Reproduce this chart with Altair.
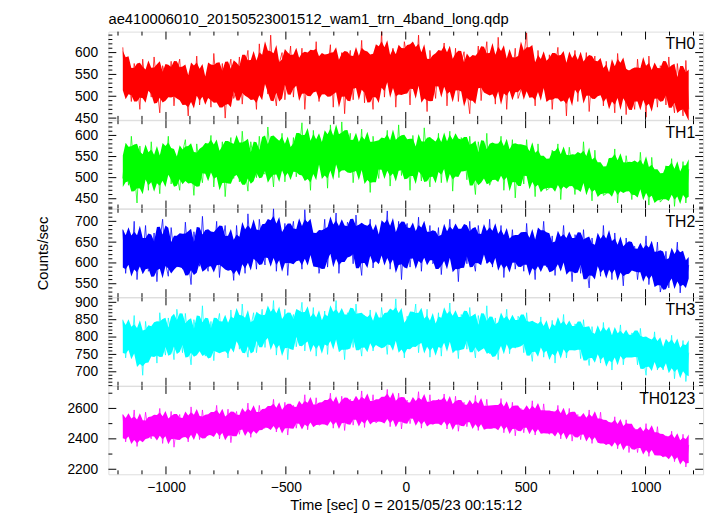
import altair as alt
import numpy as np
import pandas as pd

TITLE = "ae410006010_20150523001512_wam1_trn_4band_long.qdp"
XTITLE = "Time [sec] 0 = 2015/05/23 00:15:12"
YTITLE = "Counts/sec"

# time grid of the light-curve samples (sec from 2015/05/23 00:15:12)
T_FIRST, T_LAST, N_SAMPLES = -1180, 1180, 200

# count rates (approximate)
th0 = [612, 505, 560, 488, 575, 540, 470, 585, 515, 548,
       498, 590, 525, 462, 570, 545, 502, 580, 478, 555,
       585, 490, 535, 455, 568, 510, 592, 480, 545, 505,
       560, 475, 598, 520, 488, 575, 450, 550, 585, 495,
       515, 590, 482, 565, 605, 498, 548, 470, 620, 530,
       590, 505, 640, 520, 478, 575, 600, 492, 555, 615,
       498, 585, 530, 610, 470, 565, 595, 512, 625, 488,
       580, 505, 560, 618, 475, 590, 520, 600, 460, 572,
       605, 492, 575, 530, 628, 485, 598, 540, 470, 612,
       520, 648, 498, 585, 560, 610, 475, 590, 505, 625,
       588, 480, 612, 535, 640, 500, 575, 465, 605, 545,
       495, 598, 560, 622, 478, 585, 520, 610, 488, 575,
       602, 512, 460, 588, 535, 615, 490, 570, 625, 505,
       570, 482, 635, 525, 598, 470, 580, 545, 610, 495,
       515, 590, 645, 498, 562, 478, 605, 530, 585, 490,
       595, 470, 560, 612, 500, 578, 455, 590, 525, 605,
       488, 575, 530, 600, 465, 555, 592, 505, 570, 478,
       580, 495, 548, 462, 598, 520, 575, 458, 560, 505,
       470, 585, 515, 560, 452, 592, 498, 545, 475, 570,
       560, 480, 590, 505, 462, 575, 518, 455, 582, 470]
th1 = [498, 565, 482, 598, 520, 440, 575, 505, 550, 470,
       585, 495, 540, 462, 572, 515, 598, 485, 555, 508,
       470, 560, 590, 500, 545, 458, 580, 525, 488, 570,
       545, 600, 478, 562, 505, 585, 455, 548, 595, 498,
       575, 490, 610, 522, 468, 585, 540, 500, 598, 515,
       508, 620, 548, 478, 590, 530, 605, 490, 570, 512,
       595, 502, 560, 630, 495, 578, 470, 612, 535, 585,
       510, 598, 475, 625, 545, 590, 500, 632, 520, 568,
       605, 488, 570, 528, 615, 495, 585, 465, 598, 540,
       498, 590, 545, 612, 480, 572, 520, 625, 505, 560,
       585, 470, 600, 525, 560, 492, 618, 538, 478, 590,
       520, 605, 488, 575, 540, 610, 468, 582, 515, 595,
       575, 495, 598, 520, 460, 585, 540, 502, 605, 482,
       500, 580, 528, 598, 470, 560, 515, 590, 452, 555,
       565, 485, 590, 510, 548, 455, 580, 500, 538, 470,
       475, 565, 505, 580, 448, 540, 492, 572, 518, 460,
       548, 470, 585, 495, 530, 445, 565, 488, 520, 458,
       462, 545, 490, 568, 440, 525, 478, 552, 505, 448,
       530, 455, 560, 480, 512, 435, 548, 470, 505, 442,
       450, 528, 475, 545, 432, 508, 462, 538, 440, 520]
th2 = [680, 575, 650, 598, 700, 560, 640, 612, 690, 580,
       590, 672, 555, 650, 705, 600, 568, 685, 620, 590,
       660, 585, 698, 610, 548, 675, 630, 592, 712, 605,
       580, 668, 615, 700, 565, 645, 690, 598, 625, 558,
       690, 600, 655, 575, 718, 620, 660, 585, 705, 640,
       595, 700, 628, 730, 580, 675, 612, 695, 570, 660,
       700, 610, 660, 585, 728, 625, 690, 600, 670, 575,
       620, 705, 590, 680, 640, 720, 575, 665, 610, 698,
       682, 598, 715, 625, 570, 690, 640, 705, 588, 660,
       600, 690, 625, 725, 585, 668, 612, 700, 560, 675,
       695, 590, 660, 615, 710, 580, 675, 630, 690, 598,
       610, 685, 572, 660, 625, 705, 590, 670, 555, 680,
       672, 598, 700, 615, 580, 690, 630, 660, 600, 705,
       590, 668, 615, 690, 565, 655, 605, 680, 585, 640,
       660, 580, 695, 600, 640, 560, 678, 615, 700, 590,
       598, 665, 570, 650, 610, 690, 585, 640, 555, 668,
       650, 575, 680, 598, 540, 660, 605, 638, 568, 690,
       585, 650, 560, 672, 600, 625, 545, 660, 590, 630,
       640, 560, 615, 585, 665, 548, 620, 575, 650, 530,
       560, 628, 540, 605, 575, 650, 528, 615, 555, 595]
th3 = [850, 740, 815, 768, 862, 730, 800, 690, 845, 772,
       760, 835, 725, 870, 790, 748, 855, 805, 735, 880,
       825, 755, 868, 785, 720, 850, 800, 765, 890, 745,
       770, 845, 732, 825, 868, 760, 812, 740, 878, 790,
       850, 765, 895, 790, 742, 830, 870, 755, 818, 880,
       770, 860, 805, 905, 748, 845, 785, 880, 735, 835,
       865, 772, 830, 900, 760, 850, 795, 885, 745, 840,
       790, 875, 750, 858, 812, 905, 768, 840, 735, 870,
       858, 770, 895, 805, 745, 862, 790, 878, 760, 830,
       775, 885, 820, 750, 868, 800, 910, 765, 845, 740,
       860, 770, 832, 895, 755, 848, 790, 880, 742, 825,
       782, 870, 745, 855, 805, 898, 760, 835, 738, 865,
       850, 765, 885, 795, 740, 862, 815, 770, 890, 752,
       770, 855, 735, 842, 800, 880, 752, 825, 768, 860,
       842, 755, 870, 785, 730, 835, 790, 858, 742, 815,
       760, 848, 725, 830, 780, 865, 740, 812, 770, 838,
       825, 738, 850, 770, 718, 830, 760, 805, 725, 842,
       740, 820, 705, 800, 765, 835, 720, 790, 748, 812,
       800, 720, 825, 745, 690, 790, 738, 815, 705, 778,
       705, 782, 728, 805, 680, 765, 720, 790, 672, 755]
th0123 = [2560, 2380, 2510, 2420, 2590, 2350, 2480, 2405, 2575, 2440,
          2400, 2550, 2445, 2600, 2370, 2520, 2430, 2580, 2345, 2495,
          2560, 2410, 2520, 2380, 2610, 2455, 2540, 2395, 2590, 2430,
          2420, 2570, 2460, 2620, 2400, 2530, 2445, 2595, 2375, 2510,
          2580, 2430, 2545, 2470, 2635, 2410, 2560, 2455, 2620, 2480,
          2470, 2610, 2500, 2660, 2445, 2575, 2480, 2640, 2425, 2590,
          2620, 2470, 2590, 2505, 2690, 2460, 2615, 2520, 2670, 2490,
          2500, 2650, 2535, 2700, 2470, 2610, 2520, 2680, 2455, 2630,
          2660, 2490, 2625, 2530, 2715, 2475, 2640, 2545, 2690, 2505,
          2520, 2670, 2550, 2725, 2480, 2640, 2530, 2700, 2465, 2620,
          2655, 2500, 2610, 2545, 2710, 2470, 2635, 2520, 2690, 2495,
          2510, 2660, 2530, 2695, 2465, 2620, 2505, 2680, 2450, 2600,
          2640, 2480, 2600, 2510, 2685, 2455, 2615, 2495, 2660, 2470,
          2470, 2620, 2505, 2665, 2440, 2590, 2480, 2640, 2420, 2575,
          2600, 2440, 2570, 2475, 2650, 2425, 2585, 2460, 2630, 2455,
          2430, 2580, 2460, 2620, 2400, 2545, 2445, 2600, 2385, 2530,
          2560, 2395, 2520, 2430, 2590, 2370, 2535, 2410, 2575, 2380,
          2360, 2510, 2390, 2545, 2335, 2480, 2370, 2525, 2310, 2460,
          2470, 2310, 2430, 2340, 2500, 2285, 2445, 2330, 2480, 2300,
          2280, 2420, 2305, 2450, 2250, 2390, 2270, 2430, 2215, 2360]

names = ["TH0", "TH1", "TH2", "TH3", "TH0123"]
colors = ["#ff0000", "#00ff00", "#0000ff", "#00ffff", "#ff00ff"]
series = [th0, th1, th2, th3, th0123]
y_domains = [[446, 648], [427, 636], [518, 730], [660, 914], [2167, 2747]]
y_major = [[450, 500, 550, 600], [450, 500, 550, 600], [550, 600, 650, 700],
           [700, 750, 800, 850, 900], [2200, 2400, 2600]]
y_step_minor = [10, 10, 10, 10, 100]

x_domain = [-1240, 1240]
x_major = [-1000, -500, 0, 500, 1000]
x_minor = [v for v in range(-1200, 1201, 100) if v not in x_major]

W, H = 604, 89.6
FONT = "Liberation Sans"

times = np.linspace(T_FIRST, T_LAST, N_SAMPLES)
xs = alt.Scale(domain=x_domain, nice=False, zero=False)

panels = []
for k, (name, col, vals, yd, ymaj, ystep) in enumerate(
        zip(names, colors, series, y_domains, y_major, y_step_minor)):
    ys = alt.Scale(domain=yd, nice=False, zero=False)
    df = pd.DataFrame({"t": times, "rate": vals})

    last = (k == len(names) - 1)
    if last:
        xaxis = alt.Axis(values=x_major, format="d", ticks=False, domain=False, grid=False,
                         labelPadding=7, labelFontSize=14, labelFont=FONT, labelColor="black",
                         title=XTITLE, titleFontSize=15, titleFontWeight="normal",
                         titleFont=FONT, titleColor="black", titlePadding=3)
    else:
        xaxis = None
    yaxis_kw = dict(values=ymaj, format="d", ticks=False, domain=False, grid=False,
                    labelPadding=11, labelFontSize=14, labelFont=FONT, labelColor="black",
                    labelOverlap=False, labelFlush=False,
                    title=(YTITLE if k == 2 else None))
    if k == 2:
        yaxis_kw.update(titleFontSize=15, titleFontWeight="normal", titleFont=FONT,
                        titleColor="black", titleX=-59, titleY=H / 2)
    yaxis = alt.Axis(**yaxis_kw)

    X = lambda f: alt.X(f, scale=xs, axis=xaxis)
    Y = lambda f: alt.Y(f, scale=ys, axis=yaxis)

    # dense core of the noisy light curve: running mean +/- running sd
    core = alt.Chart(df).transform_window(
        m="mean(rate)", s="stdev(rate)", frame=[-2, 2], sort=[alt.SortField("t")]
    ).transform_calculate(
        hi="datum.m + 0.85 * datum.s", lo="datum.m - 0.85 * datum.s"
    ).mark_area(color=col, opacity=1, interpolate="linear").encode(
        x=X("t:Q"), y=Y("hi:Q"), y2="lo:Q")
    line = alt.Chart(df).mark_line(color=col, strokeWidth=1, opacity=0.75).encode(
        x=X("t:Q"), y=Y("rate:Q"))

    ymin_list = [v for v in range(int(np.ceil(yd[0] / ystep) * ystep), yd[1] + 1, ystep)
                 if v not in ymaj]

    layers = [core, line]
    for side in ("bottom", "top"):
        for sub, ln in ((x_major, 8), (x_minor, 4)):
            d = pd.DataFrame({"v": sub})
            if side == "bottom":
                enc = dict(y=alt.value(H), y2=alt.value(H - ln))
            else:
                enc = dict(y=alt.value(0), y2=alt.value(ln))
            layers.append(alt.Chart(d).mark_rule(color="black", strokeWidth=1).encode(
                x=X("v:Q"), **enc))
    for side in ("left", "right"):
        for sub, ln in ((ymaj, 8), (ymin_list, 4)):
            d = pd.DataFrame({"v": sub})
            if side == "left":
                enc = dict(x=alt.value(0), x2=alt.value(ln))
            else:
                enc = dict(x=alt.value(W), x2=alt.value(W - ln))
            layers.append(alt.Chart(d).mark_rule(color="black", strokeWidth=1).encode(
                y=Y("v:Q"), **enc))

    label = alt.Chart(pd.DataFrame({"lab": [name]})).mark_text(
        align="right", baseline="top", fontSize=16, font=FONT, color="black").encode(
        text="lab:N", x=alt.value(W - 8), y=alt.value(5))
    layers.append(label)

    panels.append(alt.layer(*layers).properties(width=W, height=H))

chart = alt.vconcat(*panels, spacing=0, bounds="flush").properties(
    title=alt.TitleParams(TITLE, anchor="start", frame="group", fontSize=15,
                          fontWeight="normal", font=FONT, color="black", offset=2),
    padding={"left": 27, "top": 0, "right": 5, "bottom": 0},
).configure_view(stroke="black", strokeWidth=1.5).configure(font=FONT)

chart.save("out.html", embed_options={"renderer": "svg", "actions": False})
